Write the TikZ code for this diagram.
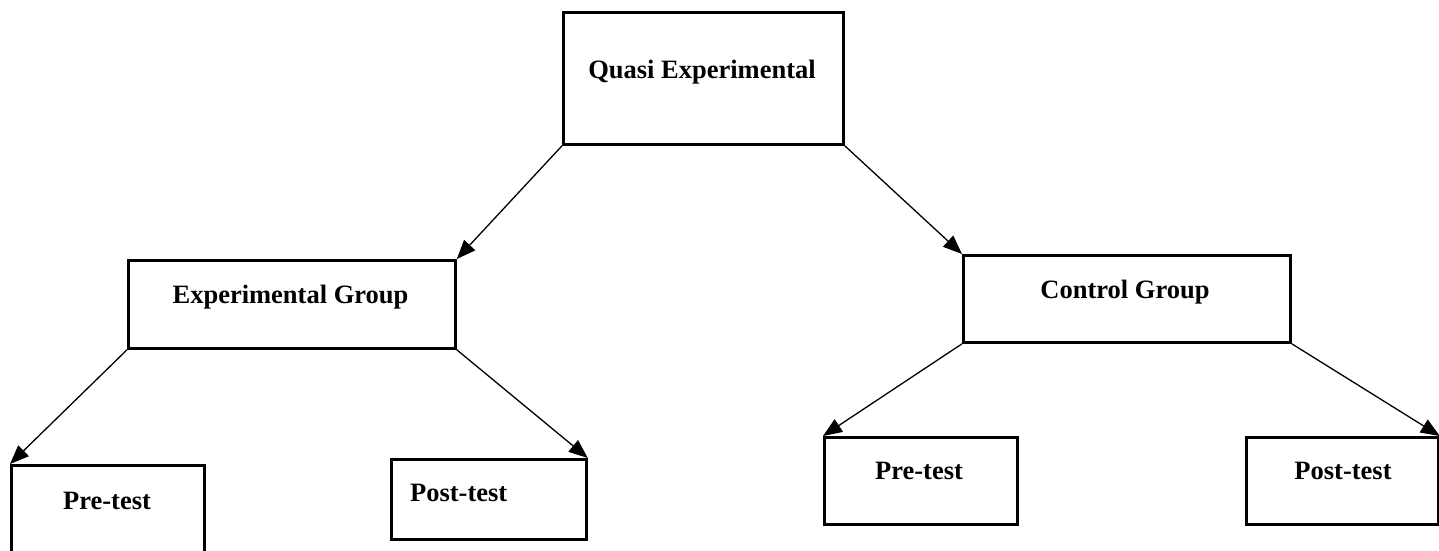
\documentclass[tikz,border=0pt]{standalone}
\usepackage{fontspec}
\setmainfont{Liberation Serif}
\usetikzlibrary{arrows.meta}
\begin{document}
\begin{tikzpicture}[x=1pt,y=-1pt,
  box/.style={draw=black,line width=2.8pt,fill=white,inner sep=0pt,anchor=north west},
  lbl/.style={font=\fontsize{26.5}{30}\selectfont\bfseries,inner sep=0pt,anchor=base},
  conn/.style={line width=1.3pt,-{Triangle[length=19pt,width=15pt]}}]
\useasboundingbox (0,0) rectangle (1439,550);
\node[box,minimum width=280pt,minimum height=132pt] (top) at (562,11) {};
\node[box,minimum width=327pt,minimum height=88pt] (exp) at (127,259) {};
\node[box,minimum width=327pt,minimum height=87pt] (ctl) at (962,254) {};
\node[box,minimum width=193pt,minimum height=120pt] (pre1) at (10,464) {};
\node[box,minimum width=195pt,minimum height=80pt] (post1) at (390,458) {};
\node[box,minimum width=193pt,minimum height=87pt] (pre2) at (823,436) {};
\node[box,minimum width=192pt,minimum height=87pt] (post2) at (1245,436) {};
\node[lbl] (ttop) at (702,78) {Quasi Experimental};
\node[lbl] (texp) at (290.5,303) {Experimental Group};
\node[lbl] (tctl) at (1125,298) {Control Group};
\node[lbl] (tpre1) at (107,509) {Pre-test};
\node[lbl] (tpost1) at (458.7,501.5) {Post-test};
\node[lbl] (tpre2) at (919,479) {Pre-test};
\node[lbl] (tpost2) at (1343,479) {Post-test};
\draw[conn] (top.south west) -- (exp.north east);
\draw[conn] (top.south east) -- (ctl.north west);
\draw[conn] (exp.south west) -- (pre1.north west);
\draw[conn] (exp.south east) -- (post1.north east);
\draw[conn] (ctl.south west) -- (pre2.north west);
\draw[conn] (ctl.south east) -- (post2.north east);
\end{tikzpicture}
\end{document}
